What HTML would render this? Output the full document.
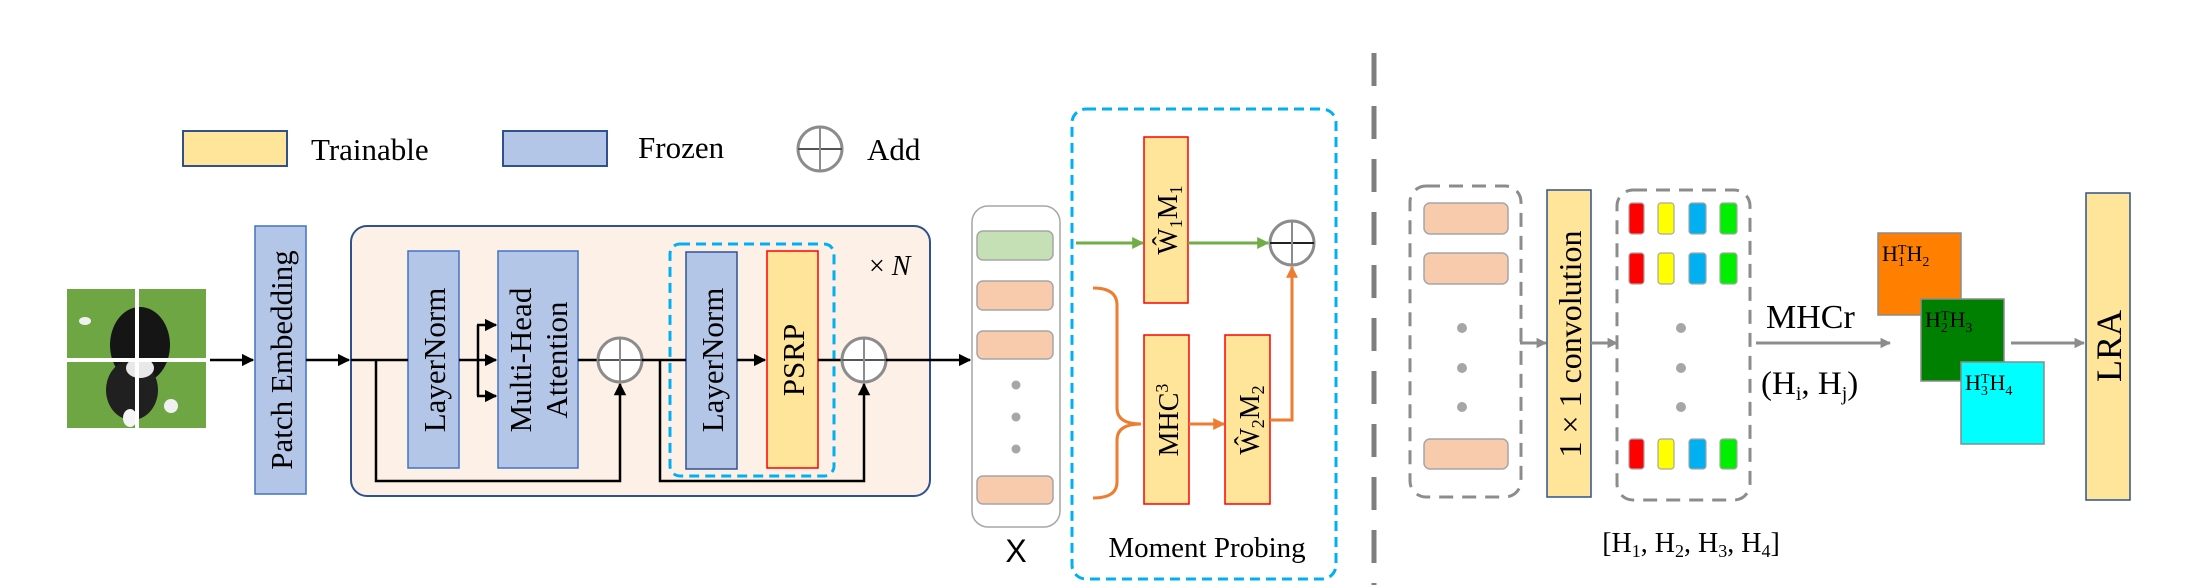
<!DOCTYPE html>
<html><head><meta charset="utf-8"><style>
html,body{margin:0;padding:0;background:#fff;}
svg{display:block;}
text{font-family:"Liberation Serif",serif;fill:#000;}
</style></head><body>
<svg width="2204" height="585" viewBox="0 0 2204 585" xmlns="http://www.w3.org/2000/svg">
<defs>
<marker id="ab" viewBox="0 0 10 10" refX="9" refY="5" markerWidth="5" markerHeight="5" orient="auto"><path d="M0,0L10,5L0,10z" fill="#000"/></marker>
<marker id="ag" viewBox="0 0 10 10" refX="9" refY="5" markerWidth="4" markerHeight="4" orient="auto"><path d="M0,0L10,5L0,10z" fill="#70ad47"/></marker>
<marker id="ao" viewBox="0 0 10 10" refX="9" refY="5" markerWidth="4" markerHeight="4" orient="auto"><path d="M0,0L10,5L0,10z" fill="#ed7d31"/></marker>
<marker id="agr" viewBox="0 0 10 10" refX="9" refY="5" markerWidth="3.5" markerHeight="3.5" orient="auto"><path d="M0,0L10,5L0,10z" fill="#8c8c8c"/></marker>
</defs>

<!-- legend -->
<rect x="183" y="131" width="104" height="35" fill="#fee599" stroke="#2f528f" stroke-width="2"/>
<text x="311" y="160" font-size="31">Trainable</text>
<rect x="503" y="131" width="104" height="35" fill="#b4c6e7" stroke="#2f528f" stroke-width="2"/>
<text x="638" y="158" font-size="31">Frozen</text>
<circle cx="820" cy="149" r="22" fill="none" stroke="#8c8c8c" stroke-width="3"/>
<line x1="798" y1="149" x2="842" y2="149" stroke="#555" stroke-width="2"/>
<line x1="820" y1="127" x2="820" y2="171" stroke="#8c8c8c" stroke-width="2"/>
<text x="867" y="160" font-size="31">Add</text>

<!-- dog image -->
<rect x="67" y="289" width="139" height="139" fill="#6fa644"/>
<ellipse cx="140" cy="345" rx="30" ry="38" fill="#151515"/>
<ellipse cx="132" cy="390" rx="26" ry="30" fill="#202020"/>
<ellipse cx="140" cy="368" rx="14" ry="10" fill="#e8e8e8"/>
<ellipse cx="130" cy="418" rx="7" ry="9" fill="#f5f5f5"/>
<ellipse cx="171" cy="406" rx="7" ry="7" fill="#f0f0f0"/>
<ellipse cx="85" cy="321" rx="6" ry="4" fill="#f0f0f0"/>
<rect x="135" y="289" width="4" height="139" fill="#fff"/>
<rect x="67" y="358" width="139" height="4" fill="#fff"/>
<line x1="210" y1="360" x2="253" y2="360" stroke="#000" stroke-width="2.5" marker-end="url(#ab)"/>

<!-- patch embedding -->
<rect x="255" y="226" width="51" height="268" fill="#b4c6e7" stroke="#4472c4" stroke-width="1.5"/>
<text transform="translate(292,360) rotate(-90)" text-anchor="middle" font-size="31">Patch Embedding</text>
<line x1="306" y1="360" x2="349" y2="360" stroke="#000" stroke-width="2.5" marker-end="url(#ab)"/>

<!-- transformer block -->
<rect x="351" y="226" width="579" height="270" rx="16" fill="#fdf1e7" stroke="#2f528f" stroke-width="2"/>
<rect x="408" y="251" width="51" height="217" fill="#b4c6e7" stroke="#4472c4" stroke-width="1.5"/>
<text transform="translate(445,360) rotate(-90)" text-anchor="middle" font-size="31">LayerNorm</text>
<rect x="498" y="251" width="80" height="217" fill="#b4c6e7" stroke="#4472c4" stroke-width="1.5"/>
<text transform="translate(531,360) rotate(-90)" text-anchor="middle" font-size="31">Multi-Head</text>
<text transform="translate(567,360) rotate(-90)" text-anchor="middle" font-size="31">Attention</text>
<line x1="351" y1="360" x2="408" y2="360" stroke="#000" stroke-width="2.5"/>
<line x1="459" y1="360" x2="496" y2="360" stroke="#000" stroke-width="2.5" marker-end="url(#ab)"/>
<polyline points="478,325 478,396" fill="none" stroke="#000" stroke-width="2.5"/>
<line x1="477" y1="325" x2="496" y2="325" stroke="#000" stroke-width="2.5" marker-end="url(#ab)"/>
<line x1="477" y1="396" x2="496" y2="396" stroke="#000" stroke-width="2.5" marker-end="url(#ab)"/>
<line x1="578" y1="360" x2="598" y2="360" stroke="#000" stroke-width="2.5"/>
<circle cx="620" cy="360" r="22" fill="#fff" stroke="#8c8c8c" stroke-width="3"/>
<line x1="598" y1="360" x2="642" y2="360" stroke="#555" stroke-width="2"/>
<line x1="620" y1="338" x2="620" y2="382" stroke="#8c8c8c" stroke-width="2"/>
<polyline points="376,360 376,481 620,481 620,384" fill="none" stroke="#000" stroke-width="2.5" marker-end="url(#ab)"/>

<rect x="670" y="244" width="164" height="232" rx="10" fill="none" stroke="#00b0f0" stroke-width="3" stroke-dasharray="10,6"/>
<rect x="686" y="252" width="51" height="217" fill="#b4c6e7" stroke="#2f528f" stroke-width="1.5"/>
<text transform="translate(723,360) rotate(-90)" text-anchor="middle" font-size="31">LayerNorm</text>
<rect x="767" y="251" width="51" height="217" fill="#fee599" stroke="#ff0000" stroke-width="1.5"/>
<text transform="translate(804,360) rotate(-90)" text-anchor="middle" font-size="31">PSRP</text>
<line x1="642" y1="360" x2="686" y2="360" stroke="#000" stroke-width="2.5"/>
<line x1="737" y1="360" x2="765" y2="360" stroke="#000" stroke-width="2.5" marker-end="url(#ab)"/>
<line x1="818" y1="360" x2="842" y2="360" stroke="#000" stroke-width="2.5"/>
<circle cx="864" cy="360" r="22" fill="#fff" stroke="#8c8c8c" stroke-width="3"/>
<line x1="842" y1="360" x2="886" y2="360" stroke="#555" stroke-width="2"/>
<line x1="864" y1="338" x2="864" y2="382" stroke="#8c8c8c" stroke-width="2"/>
<polyline points="660,360 660,481 864,481 864,384" fill="none" stroke="#000" stroke-width="2.5" marker-end="url(#ab)"/>
<text x="869" y="275" font-size="28">× <tspan font-style="italic">N</tspan></text>
<line x1="886" y1="360" x2="970" y2="360" stroke="#000" stroke-width="2.5" marker-end="url(#ab)"/>

<!-- X tokens -->
<rect x="972" y="206" width="88" height="321" rx="16" fill="#fff" stroke="#a6a6a6" stroke-width="1.5"/>
<rect x="977" y="231" width="76" height="29" rx="6" fill="#c5e0b4" stroke="#a6a6a6" stroke-width="1.5"/>
<rect x="977" y="281" width="76" height="29" rx="6" fill="#f8cbad" stroke="#a6a6a6" stroke-width="1.5"/>
<rect x="977" y="331" width="76" height="28" rx="6" fill="#f8cbad" stroke="#a6a6a6" stroke-width="1.5"/>
<rect x="977" y="476" width="76" height="28" rx="6" fill="#f8cbad" stroke="#a6a6a6" stroke-width="1.5"/>
<circle cx="1016" cy="385" r="4.5" fill="#a6a6a6"/>
<circle cx="1016" cy="417" r="4.5" fill="#a6a6a6"/>
<circle cx="1016" cy="449" r="4.5" fill="#a6a6a6"/>
<text x="1016" y="562" text-anchor="middle" font-size="32" style="font-family:'Liberation Sans',sans-serif">X</text>

<!-- Moment probing -->
<rect x="1072" y="109" width="264" height="470" rx="14" fill="none" stroke="#00b0f0" stroke-width="3" stroke-dasharray="10,6"/>
<rect x="1144" y="137" width="44" height="166" fill="#fee599" stroke="#ff0000" stroke-width="1.5"/>
<text transform="translate(1177,220) rotate(-90)" text-anchor="middle" font-size="28">Ŵ<tspan font-size="18" dy="5">1</tspan><tspan dy="-5">M</tspan><tspan font-size="18" dy="5">1</tspan></text>
<line x1="1076" y1="243" x2="1143" y2="243" stroke="#70ad47" stroke-width="3" marker-end="url(#ag)"/>
<line x1="1188" y1="243" x2="1268" y2="243" stroke="#70ad47" stroke-width="3" marker-end="url(#ag)"/>
<circle cx="1292" cy="243" r="22" fill="#fff" stroke="#8c8c8c" stroke-width="3"/>
<line x1="1270" y1="243" x2="1314" y2="243" stroke="#222" stroke-width="2"/>
<line x1="1292" y1="221" x2="1292" y2="265" stroke="#8c8c8c" stroke-width="2"/>
<path d="M1093,288 Q1117,288 1117,305 L1117,408 Q1117,424 1141,424 Q1117,424 1117,440 L1117,482 Q1117,498 1093,498" fill="none" stroke="#ed7d31" stroke-width="3"/>
<rect x="1144" y="335" width="45" height="169" fill="#fee599" stroke="#ff0000" stroke-width="1.5"/>
<text transform="translate(1178,420) rotate(-90)" text-anchor="middle" font-size="28">MHC<tspan font-size="18" dy="-10">3</tspan></text>
<rect x="1225" y="335" width="45" height="169" fill="#fee599" stroke="#ff0000" stroke-width="1.5"/>
<text transform="translate(1259,420) rotate(-90)" text-anchor="middle" font-size="28">Ŵ<tspan font-size="18" dy="5">2</tspan><tspan dy="-5">M</tspan><tspan font-size="18" dy="5">2</tspan></text>
<line x1="1189" y1="424" x2="1224" y2="424" stroke="#ed7d31" stroke-width="3" marker-end="url(#ao)"/>
<polyline points="1270,420 1292,420 1292,267" fill="none" stroke="#ed7d31" stroke-width="3" marker-end="url(#ao)"/>
<text x="1207" y="557" text-anchor="middle" font-size="29">Moment Probing</text>

<!-- divider -->
<line x1="1374" y1="53" x2="1374" y2="585" stroke="#7f7f7f" stroke-width="5" stroke-dasharray="33,20"/>

<!-- right part -->
<rect x="1410" y="186" width="111" height="311" rx="16" fill="none" stroke="#8c8c8c" stroke-width="3" stroke-dasharray="14,9"/>
<rect x="1424" y="203" width="84" height="31" rx="6" fill="#f8cbad" stroke="#a6a6a6" stroke-width="1.5"/>
<rect x="1424" y="253" width="84" height="31" rx="6" fill="#f8cbad" stroke="#a6a6a6" stroke-width="1.5"/>
<rect x="1424" y="439" width="84" height="30" rx="6" fill="#f8cbad" stroke="#a6a6a6" stroke-width="1.5"/>
<circle cx="1462" cy="328" r="5" fill="#a6a6a6"/>
<circle cx="1462" cy="368" r="5" fill="#a6a6a6"/>
<circle cx="1462" cy="407" r="5" fill="#a6a6a6"/>
<line x1="1520" y1="343" x2="1546" y2="343" stroke="#8c8c8c" stroke-width="3" marker-end="url(#agr)"/>
<rect x="1547" y="190" width="44" height="307" fill="#fee599" stroke="#2f528f" stroke-width="1.5"/>
<text transform="translate(1581,344) rotate(-90)" text-anchor="middle" font-size="32">1 × 1 convolution</text>
<line x1="1591" y1="343" x2="1617" y2="343" stroke="#8c8c8c" stroke-width="3" marker-end="url(#agr)"/>
<rect x="1617" y="190" width="133" height="310" rx="16" fill="none" stroke="#8c8c8c" stroke-width="3" stroke-dasharray="14,9"/>
<g stroke="#a6a6a6" stroke-width="1.2">
<rect x="1629" y="203" width="15" height="31" rx="3" fill="#ff0000"/><rect x="1658" y="203" width="16" height="31" rx="3" fill="#ffff00"/><rect x="1689" y="203" width="17" height="31" rx="3" fill="#00b0f0"/><rect x="1720" y="203" width="17" height="31" rx="3" fill="#00ee00"/>
<rect x="1629" y="253" width="15" height="31" rx="3" fill="#ff0000"/><rect x="1658" y="253" width="16" height="31" rx="3" fill="#ffff00"/><rect x="1689" y="253" width="17" height="31" rx="3" fill="#00b0f0"/><rect x="1720" y="253" width="17" height="31" rx="3" fill="#00ee00"/>
<rect x="1629" y="439" width="15" height="30" rx="3" fill="#ff0000"/><rect x="1658" y="439" width="16" height="30" rx="3" fill="#ffff00"/><rect x="1689" y="439" width="17" height="30" rx="3" fill="#00b0f0"/><rect x="1720" y="439" width="17" height="30" rx="3" fill="#00ee00"/>
</g>
<circle cx="1681" cy="328" r="5" fill="#a6a6a6"/>
<circle cx="1681" cy="368" r="5" fill="#a6a6a6"/>
<circle cx="1681" cy="407" r="5" fill="#a6a6a6"/>
<text x="1691" y="552" text-anchor="middle" font-size="28">[H<tspan font-size="18" dy="5">1</tspan><tspan dy="-5">, H</tspan><tspan font-size="18" dy="5">2</tspan><tspan dy="-5">, H</tspan><tspan font-size="18" dy="5">3</tspan><tspan dy="-5">, H</tspan><tspan font-size="18" dy="5">4</tspan><tspan dy="-5">]</tspan></text>
<text x="1766" y="328" font-size="34">MHCr</text>
<line x1="1756" y1="343" x2="1890" y2="343" stroke="#8c8c8c" stroke-width="3" marker-end="url(#agr)"/>
<text x="1761" y="394" font-size="33">(H<tspan font-size="20" dy="6">i</tspan><tspan dy="-6">, H</tspan><tspan font-size="20" dy="6">j</tspan><tspan dy="-6">)</tspan></text>
<rect x="1878" y="233" width="83" height="82" fill="#ff7f00" stroke="#8c8c8c" stroke-width="1.5"/>
<text x="1882" y="261" font-size="22">H<tspan font-size="14" dy="5">1</tspan><tspan font-size="14" dx="-7" dy="-12">T</tspan><tspan dy="7">H</tspan><tspan font-size="14" dy="5">2</tspan></text>
<rect x="1921" y="299" width="83" height="82" fill="#008000" stroke="#8c8c8c" stroke-width="1.5"/>
<text x="1925" y="327" font-size="22">H<tspan font-size="14" dy="5">2</tspan><tspan font-size="14" dx="-7" dy="-12">T</tspan><tspan dy="7">H</tspan><tspan font-size="14" dy="5">3</tspan></text>
<rect x="1961" y="362" width="83" height="82" fill="#00ffff" stroke="#8c8c8c" stroke-width="1.5"/>
<text x="1965" y="390" font-size="22">H<tspan font-size="14" dy="5">3</tspan><tspan font-size="14" dx="-7" dy="-12">T</tspan><tspan dy="7">H</tspan><tspan font-size="14" dy="5">4</tspan></text>
<line x1="2011" y1="343" x2="2084" y2="343" stroke="#8c8c8c" stroke-width="3" marker-end="url(#agr)"/>
<rect x="2086" y="193" width="44" height="307" fill="#fee599" stroke="#2f528f" stroke-width="1.5"/>
<text transform="translate(2121,346) rotate(-90)" text-anchor="middle" font-size="36">LRA</text>
</svg>
</body></html>
